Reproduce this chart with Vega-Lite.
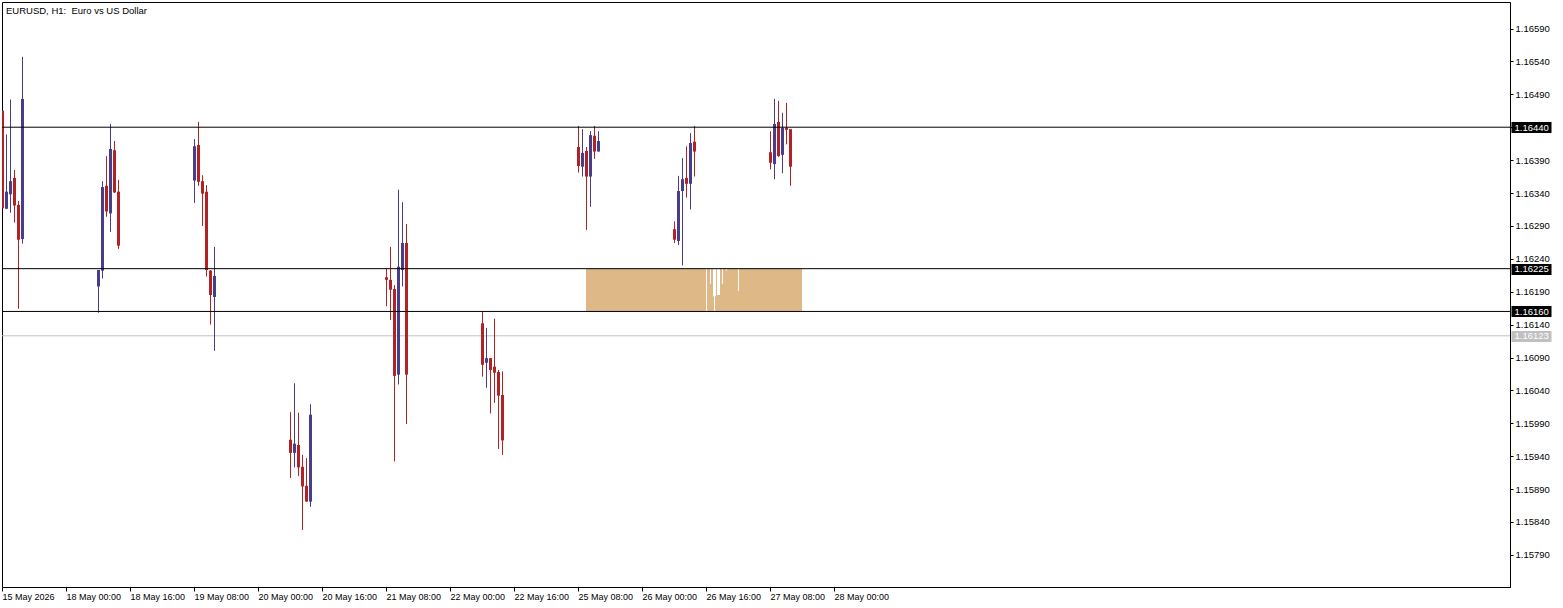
{
  "$schema": "https://vega.github.io/schema/vega-lite/v6.json",
  "width": 1508,
  "height": 585,
  "autosize": {"type": "none"},
  "padding": {"left": 2, "top": 2, "right": 53, "bottom": 21},
  "background": "white",
  "title": {
    "text": "EURUSD, H1:\u00a0 Euro vs US Dollar",
    "anchor": "start",
    "frame": "group",
    "orient": "top",
    "offset": -11,
    "baseline": "alphabetic",
    "dx": 4,
    "dy": 10,
    "font": "Liberation Sans",
    "fontSize": 9.5,
    "fontWeight": "normal",
    "color": "black"
  },
  "config": {
    "font": "Liberation Sans",
    "view": {"stroke": "black", "strokeWidth": 1},
    "axis": {"grid": false}
  },
  "datasets": {
    "candles": [
      {"j": 0, "o": 1.16465, "h": 1.16465, "l": 1.16317, "c": 1.16317},
      {"j": 1, "o": 1.16316, "h": 1.16429, "l": 1.16316, "c": 1.16342},
      {"j": 2, "o": 1.16338, "h": 1.16482, "l": 1.16310, "c": 1.16358},
      {"j": 3, "o": 1.16363, "h": 1.16375, "l": 1.16295, "c": 1.16321},
      {"j": 4, "o": 1.16322, "h": 1.16328, "l": 1.16164, "c": 1.16269},
      {"j": 5, "o": 1.16270, "h": 1.16547, "l": 1.16263, "c": 1.16483},
      {"j": 24, "o": 1.16198, "h": 1.16223, "l": 1.16158, "c": 1.16223},
      {"j": 25, "o": 1.16222, "h": 1.16358, "l": 1.16210, "c": 1.16349},
      {"j": 26, "o": 1.16351, "h": 1.16396, "l": 1.16304, "c": 1.16312},
      {"j": 27, "o": 1.16309, "h": 1.16445, "l": 1.16281, "c": 1.16407},
      {"j": 28, "o": 1.16405, "h": 1.16419, "l": 1.16340, "c": 1.16341},
      {"j": 29, "o": 1.16342, "h": 1.16360, "l": 1.16255, "c": 1.16260},
      {"j": 48, "o": 1.16359, "h": 1.16422, "l": 1.16325, "c": 1.16411},
      {"j": 49, "o": 1.16413, "h": 1.16448, "l": 1.16351, "c": 1.16357},
      {"j": 50, "o": 1.16358, "h": 1.16367, "l": 1.16290, "c": 1.16339},
      {"j": 51, "o": 1.16342, "h": 1.16352, "l": 1.16213, "c": 1.16223},
      {"j": 52, "o": 1.16222, "h": 1.16223, "l": 1.16140, "c": 1.16185},
      {"j": 53, "o": 1.16182, "h": 1.16258, "l": 1.16100, "c": 1.16214},
      {"j": 72, "o": 1.15965, "h": 1.16007, "l": 1.15907, "c": 1.15945},
      {"j": 73, "o": 1.15945, "h": 1.16051, "l": 1.15923, "c": 1.15959},
      {"j": 74, "o": 1.15957, "h": 1.16006, "l": 1.15910, "c": 1.15923},
      {"j": 75, "o": 1.15924, "h": 1.15942, "l": 1.15828, "c": 1.15894},
      {"j": 76, "o": 1.15895, "h": 1.15937, "l": 1.15871, "c": 1.15871},
      {"j": 77, "o": 1.15871, "h": 1.16019, "l": 1.15863, "c": 1.16003},
      {"j": 96, "o": 1.16212, "h": 1.16226, "l": 1.16168, "c": 1.16208},
      {"j": 97, "o": 1.16208, "h": 1.16258, "l": 1.16147, "c": 1.16193},
      {"j": 98, "o": 1.16194, "h": 1.16200, "l": 1.15932, "c": 1.16062},
      {"j": 99, "o": 1.16064, "h": 1.16345, "l": 1.16049, "c": 1.16228},
      {"j": 100, "o": 1.16223, "h": 1.16326, "l": 1.16198, "c": 1.16264},
      {"j": 101, "o": 1.16264, "h": 1.16293, "l": 1.15989, "c": 1.16064},
      {"j": 120, "o": 1.16142, "h": 1.16160, "l": 1.16061, "c": 1.16079},
      {"j": 121, "o": 1.16082, "h": 1.16135, "l": 1.16044, "c": 1.16089},
      {"j": 122, "o": 1.16089, "h": 1.16089, "l": 1.16005, "c": 1.16071},
      {"j": 123, "o": 1.16076, "h": 1.16149, "l": 1.16021, "c": 1.16067},
      {"j": 124, "o": 1.16068, "h": 1.16071, "l": 1.15951, "c": 1.16032},
      {"j": 125, "o": 1.16033, "h": 1.16069, "l": 1.15942, "c": 1.15964},
      {"j": 144, "o": 1.16410, "h": 1.16442, "l": 1.16371, "c": 1.16381},
      {"j": 145, "o": 1.16380, "h": 1.16437, "l": 1.16365, "c": 1.16401},
      {"j": 146, "o": 1.16404, "h": 1.16410, "l": 1.16284, "c": 1.16365},
      {"j": 147, "o": 1.16365, "h": 1.16434, "l": 1.16319, "c": 1.16428},
      {"j": 148, "o": 1.16427, "h": 1.16442, "l": 1.16392, "c": 1.16403},
      {"j": 149, "o": 1.16403, "h": 1.16434, "l": 1.16403, "c": 1.16419},
      {"j": 168, "o": 1.16285, "h": 1.16297, "l": 1.16264, "c": 1.16269},
      {"j": 169, "o": 1.16267, "h": 1.16366, "l": 1.16261, "c": 1.16343},
      {"j": 170, "o": 1.16343, "h": 1.16393, "l": 1.16230, "c": 1.16361},
      {"j": 171, "o": 1.16363, "h": 1.16411, "l": 1.16333, "c": 1.16354},
      {"j": 172, "o": 1.16354, "h": 1.16431, "l": 1.16315, "c": 1.16416},
      {"j": 173, "o": 1.16418, "h": 1.16442, "l": 1.16365, "c": 1.16403},
      {"j": 192, "o": 1.16402, "h": 1.16434, "l": 1.16376, "c": 1.16386},
      {"j": 193, "o": 1.16384, "h": 1.16483, "l": 1.16361, "c": 1.16445},
      {"j": 194, "o": 1.16448, "h": 1.16480, "l": 1.16395, "c": 1.16396},
      {"j": 195, "o": 1.16398, "h": 1.16462, "l": 1.16370, "c": 1.16439},
      {"j": 196, "o": 1.16439, "h": 1.16477, "l": 1.16414, "c": 1.16436},
      {"j": 197, "o": 1.16437, "h": 1.16437, "l": 1.16351, "c": 1.16380}
    ],
    "zone": [
      {"start": 146, "end": 200, "top": 1.16225, "bottom": 1.16160}
    ],
    "zoneWicks": [
      {"j": 176, "top": 1.16225, "bottom": 1.16160},
      {"j": 177, "top": 1.16225, "bottom": 1.16202},
      {"j": 178, "top": 1.16225, "bottom": 1.16160},
      {"j": 180, "top": 1.16225, "bottom": 1.16202},
      {"j": 181, "top": 1.16225, "bottom": 1.16222},
      {"j": 184, "top": 1.16225, "bottom": 1.16191}
    ],
    "zoneBodies": [
      {"j": 178, "top": 1.16225, "bottom": 1.16183},
      {"j": 179, "top": 1.16225, "bottom": 1.16185}
    ],
    "levels": [
      {"price": 1.16440},
      {"price": 1.16225},
      {"price": 1.16160}
    ],
    "bid": [
      {"price": 1.16123}
    ]
  },
  "resolve": {"axis": {"x": "independent", "y": "independent"}},
  "layer": [
    {
      "data": {"name": "zone"},
      "mark": {"type": "rect", "color": "#DEB887", "clip": true},
      "encoding": {
        "x": {"field": "start", "type": "quantitative", "scale": {"domain": [0, 377], "nice": false, "zero": false, "padding": 0}, "axis": null},
        "x2": {"field": "end"},
        "y": {"field": "top", "type": "quantitative", "scale": {"domain": [1.157412, 1.166303], "nice": false, "zero": false}, "axis": null},
        "y2": {"field": "bottom"}
      }
    },
    {
      "data": {"name": "zoneWicks"},
      "mark": {"type": "rule", "color": "white", "strokeWidth": 1, "xOffset": 0.5, "clip": true},
      "encoding": {
        "x": {"field": "j", "type": "quantitative", "scale": {"domain": [0, 377], "nice": false, "zero": false, "padding": 0}, "axis": null},
        "y": {"field": "top", "type": "quantitative", "scale": {"domain": [1.157412, 1.166303], "nice": false, "zero": false}, "axis": null},
        "y2": {"field": "bottom"}
      }
    },
    {
      "data": {"name": "zoneBodies"},
      "mark": {"type": "bar", "color": "white", "size": 3, "xOffset": 0.5, "clip": true},
      "encoding": {
        "x": {"field": "j", "type": "quantitative", "scale": {"domain": [0, 377], "nice": false, "zero": false, "padding": 0}, "axis": null},
        "y": {"field": "top", "type": "quantitative", "scale": {"domain": [1.157412, 1.166303], "nice": false, "zero": false}, "axis": null},
        "y2": {"field": "bottom"}
      }
    },
    {
      "data": {"name": "bid"},
      "mark": {"type": "rule", "color": "#C0C0C0", "strokeWidth": 1},
      "encoding": {
        "y": {"field": "price", "type": "quantitative", "scale": {"domain": [1.157412, 1.166303], "nice": false, "zero": false}, "axis": null}
      }
    },
    {
      "data": {"name": "candles"},
      "mark": {"type": "rule", "strokeWidth": 1, "xOffset": 0.5, "clip": true},
      "encoding": {
        "x": {
          "field": "j", "type": "quantitative",
          "scale": {"domain": [0, 377], "nice": false, "zero": false, "padding": 0},
          "axis": {
            "orient": "bottom",
            "title": null,
            "values": [0, 16, 32, 48, 64, 80, 96, 112, 128, 144, 160, 176, 192, 208],
            "labelExpr": "datum.value == 0 ? '15 May 2026' : datum.value == 16 ? '18 May 00:00' : datum.value == 32 ? '18 May 16:00' : datum.value == 48 ? '19 May 08:00' : datum.value == 64 ? '20 May 00:00' : datum.value == 80 ? '20 May 16:00' : datum.value == 96 ? '21 May 08:00' : datum.value == 112 ? '22 May 00:00' : datum.value == 128 ? '22 May 16:00' : datum.value == 144 ? '25 May 08:00' : datum.value == 160 ? '26 May 00:00' : datum.value == 176 ? '26 May 16:00' : datum.value == 192 ? '27 May 08:00' : '28 May 00:00'",
            "domainColor": "black",
            "tickColor": "black",
            "tickSize": 4,
            "labelAlign": "left",
            "labelBaseline": "top",
            "labelPadding": 1,
            "labelOffset": 0,
            "labelFont": "Liberation Sans",
            "labelFontSize": 9,
            "labelColor": "black",
            "labelOverlap": false,
            "labelFlush": false,
            "labelBound": false
          }
        },
        "y": {
          "field": "l", "type": "quantitative",
          "scale": {"domain": [1.157412, 1.166303], "nice": false, "zero": false},
          "axis": {
            "orient": "right",
            "title": null,
            "values": [1.1579, 1.1584, 1.1589, 1.1594, 1.1599, 1.1604, 1.1609, 1.1614, 1.1619, 1.1624, 1.1629, 1.1634, 1.1639, 1.1644, 1.1649, 1.1654, 1.1659],
            "format": ".5f",
            "domainColor": "black",
            "tickColor": "black",
            "tickSize": 3,
            "labelPadding": 2,
            "labelFont": "Liberation Sans",
            "labelFontSize": 9.5,
            "labelColor": "black",
            "labelOverlap": false,
            "labelFlush": false,
            "labelBound": false
          }
        },
        "y2": {"field": "h"},
        "color": {"condition": {"test": "datum.c >= datum.o", "value": "#483D8B"}, "value": "#B22222"}
      }
    },
    {
      "data": {"name": "candles"},
      "mark": {"type": "bar", "size": 3, "xOffset": 0.5, "clip": true},
      "encoding": {
        "x": {"field": "j", "type": "quantitative", "scale": {"domain": [0, 377], "nice": false, "zero": false, "padding": 0}, "axis": null},
        "y": {"field": "o", "type": "quantitative", "scale": {"domain": [1.157412, 1.166303], "nice": false, "zero": false}, "axis": null},
        "y2": {"field": "c"},
        "color": {"condition": {"test": "datum.c >= datum.o", "value": "#483D8B"}, "value": "#B22222"}
      }
    },
    {
      "data": {"name": "levels"},
      "mark": {"type": "rule", "color": "black", "strokeWidth": 1},
      "encoding": {
        "y": {
          "field": "price", "type": "quantitative",
          "scale": {"domain": [1.157412, 1.166303], "nice": false, "zero": false},
          "axis": {
            "orient": "right",
            "title": null,
            "offset": 1,
            "values": [1.1644, 1.16225, 1.1616, 1.16123],
            "format": ".5f",
            "domain": false,
            "tickSize": 40,
            "tickWidth": 11,
            "tickColor": {"condition": {"test": "datum.value < 1.1615", "value": "#C0C0C0"}, "value": "black"},
            "labelPadding": -37,
            "labelAlign": "left",
            "labelFont": "Liberation Sans",
            "labelFontSize": 9.5,
            "labelColor": "white",
            "labelOverlap": false,
            "labelFlush": false,
            "labelBound": false
          }
        }
      }
    }
  ]
}
